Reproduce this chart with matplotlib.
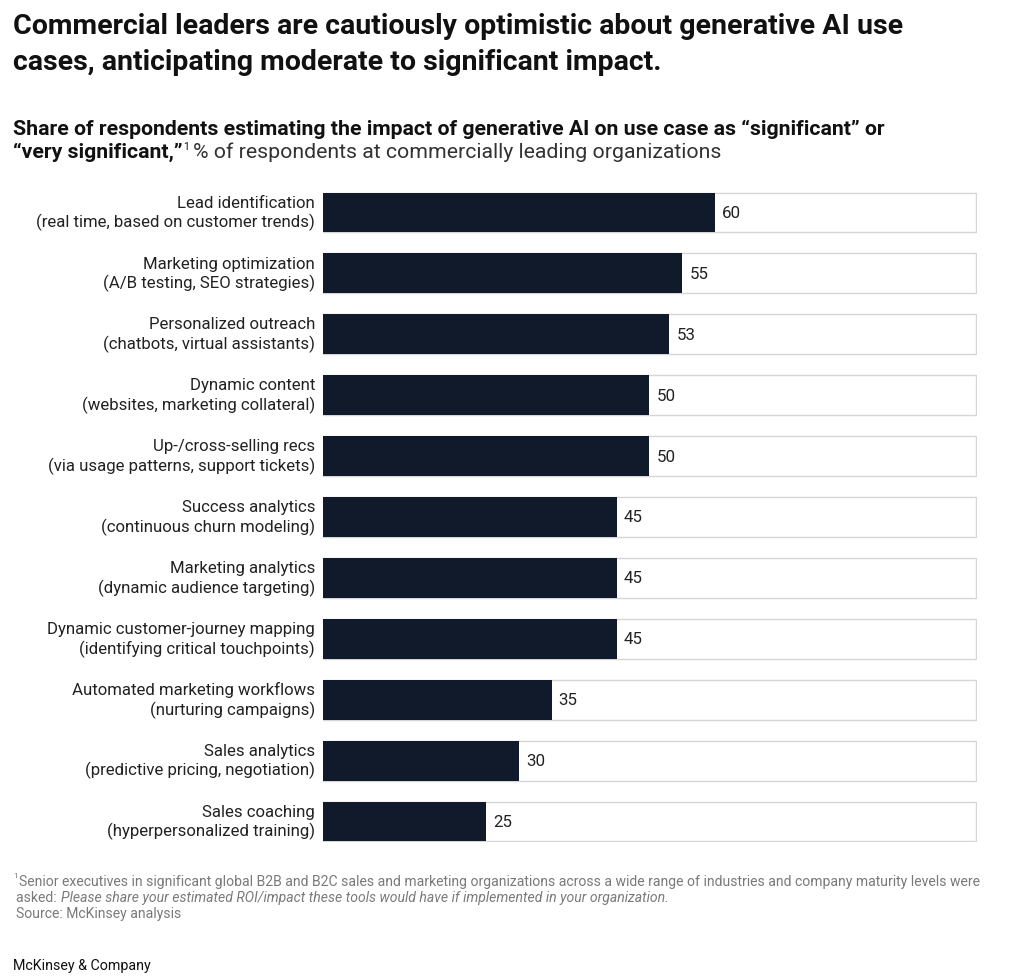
import matplotlib.pyplot as plt

plt.rcParams['font.family'] = ['Roboto', 'DejaVu Sans']

labels = ['Lead identification\n(real time, based on customer trends)',
          'Marketing optimization\n(A/B testing, SEO strategies)',
          'Personalized outreach\n(chatbots, virtual assistants)',
          'Dynamic content\n(websites, marketing collateral)',
          'Up-/cross-selling recs\n(via usage patterns, support tickets)',
          'Success analytics\n(continuous churn modeling)',
          'Marketing analytics\n(dynamic audience targeting)',
          'Dynamic customer-journey mapping\n(identifying critical touchpoints)',
          'Automated marketing workflows\n(nurturing campaigns)',
          'Sales analytics\n(predictive pricing, negotiation)',
          'Sales coaching\n(hyperpersonalized training)']
values = [60, 55, 53, 50, 50, 45, 45, 45, 35, 30, 25]
full = 100

navy = '#111a2b'
bh = 0.655

fig = plt.figure(figsize=(10.24, 9.78), dpi=100)
ax = fig.add_axes([0.3154, 0.138, 0.6387, 0.6647])

ys = list(range(len(values)))
ax.barh(ys, [full] * len(values), height=bh, color='white', edgecolor='#d6d6d6', linewidth=1)
ax.barh(ys, values, height=bh, color=navy, edgecolor='none')
for y, v, lab in zip(ys, values, labels):
    ax.text(v + 1.1, y, str(v), va='center', ha='left', fontsize=12.2, color='#222222')
    ax.text(-1.2, y, lab, va='center', ha='right', fontsize=12.1, color='#222222', linespacing=1.25)

ax.set_xlim(0, full + 0.15)
ax.set_ylim(len(values) - 1 + bh / 2 + 0.01, -bh / 2 - 0.01)
ax.axis('off')

r = fig.canvas.get_renderer()


def after(t, gap=0):
    # x position (figure fraction) right after an already drawn text
    bb = t.get_window_extent(renderer=r)
    return (bb.x1 + gap) / fig.bbox.width


fig.text(0.0127, 0.987, 'Commercial leaders are cautiously optimistic about generative AI use\n'
         'cases, anticipating moderate to significant impact.',
         fontsize=20.5, fontweight='bold', va='top', ha='left', color='#111111', linespacing=1.42)
fig.text(0.0127, 0.878, 'Share of respondents estimating the impact of generative AI on use case as \u201csignificant\u201d or',
         fontsize=15.3, fontweight='bold', va='top', ha='left', color='#111111')
t1 = fig.text(0.0127, 0.854, '\u201cvery significant,\u201d', fontsize=15.3, fontweight='bold',
              va='top', ha='left', color='#111111')
t2 = fig.text(after(t1, 1), 0.855, '1', fontsize=7.5, va='top', ha='left', color='#111111')
fig.text(after(t2, 4), 0.854, '% of respondents at commercially leading organizations', fontsize=15.3,
         va='top', ha='left', color='#333333')

fs = 10.1
f1 = fig.text(0.0127, 0.107, '1', fontsize=6, va='top', ha='left', color='#7a7a7a')
fig.text(after(f1, 1), 0.105, 'Senior executives in significant global B2B and B2C sales and marketing organizations '
         'across a wide range of industries and company maturity levels were', fontsize=fs,
         va='top', ha='left', color='#7a7a7a')
a1 = fig.text(0.0156, 0.089, 'asked: ', fontsize=fs, va='top', ha='left', color='#7a7a7a')
fig.text(after(a1, 1), 0.089, 'Please share your estimated ROI/impact these tools would have if implemented in your organization.',
         fontsize=fs, va='top', ha='left', color='#7a7a7a', style='italic')
fig.text(0.0156, 0.073, 'Source: McKinsey analysis', fontsize=fs, va='top', ha='left', color='#7a7a7a')
fig.text(0.0127, 0.0123, 'McKinsey & Company', fontsize=10.3, va='center', ha='left', color='#111111')

fig.savefig('out.png', dpi=100, facecolor='white')
